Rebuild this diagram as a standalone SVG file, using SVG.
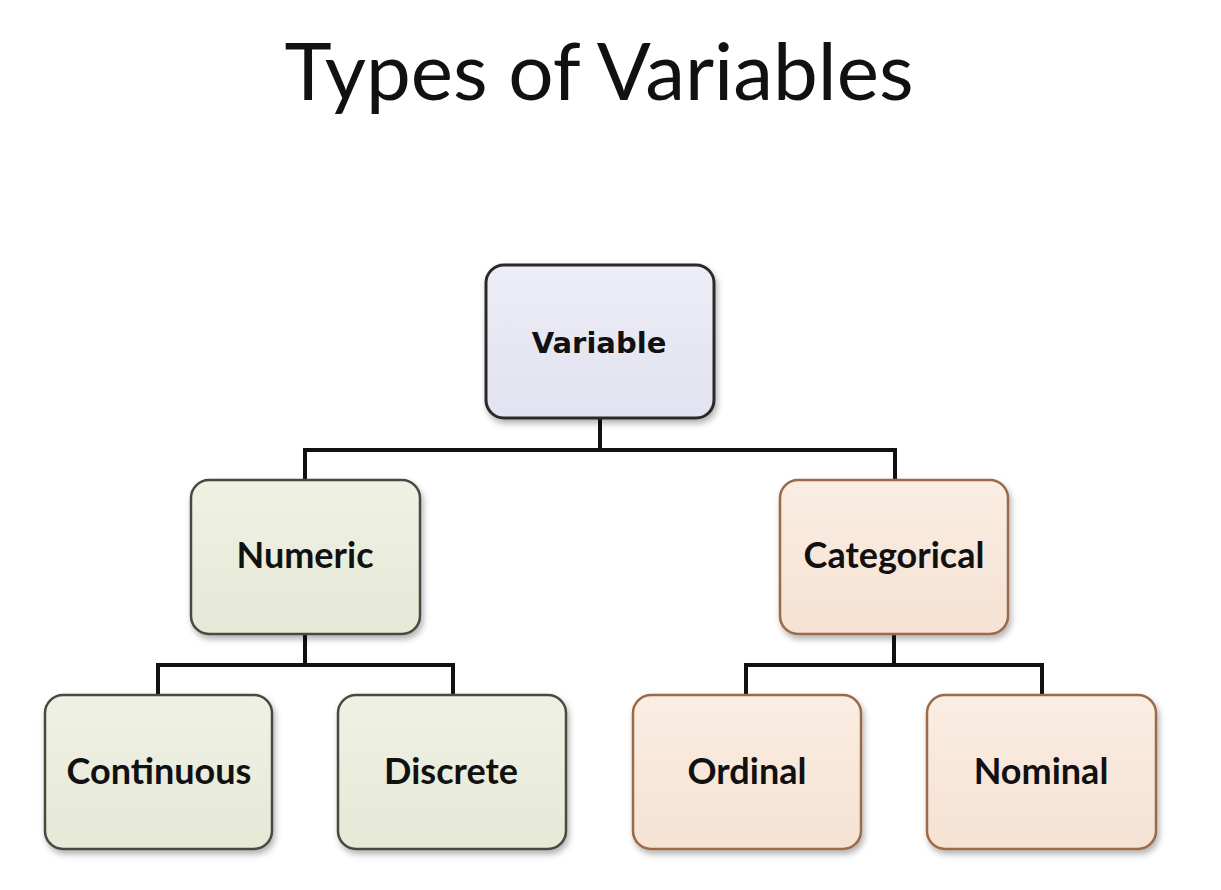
<svg xmlns="http://www.w3.org/2000/svg" width="1221" height="890" viewBox="0 0 1221 890">
<defs>
<style>
.title{font-family:Lato,"Open Sans","Liberation Sans",sans-serif;font-size:80px;fill:#111;}
.lbl{font-family:Lato,"Liberation Sans",sans-serif;font-weight:bold;font-size:36px;fill:#111;text-anchor:middle;}
.vlbl{font-family:"DejaVu Sans",sans-serif;font-weight:bold;font-size:29px;fill:#111;text-anchor:middle;}
.conn{fill:none;stroke:#111;stroke-width:4;}
.box{stroke-width:2.5;filter:url(#sh);}
.purple{fill:url(#gp);stroke:#2a2a2a;stroke-width:3;}
.green{fill:url(#gg);stroke:#4a4a40;}
.peach{fill:url(#go);stroke:#9a6a48;}
</style>
<linearGradient id="gp" x1="0" y1="0" x2="0" y2="1"><stop offset="0" stop-color="#ededf7"/><stop offset="1" stop-color="#e2e2f0"/></linearGradient>
<linearGradient id="gg" x1="0" y1="0" x2="0" y2="1"><stop offset="0" stop-color="#eff1e4"/><stop offset="1" stop-color="#e6e9d6"/></linearGradient>
<linearGradient id="go" x1="0" y1="0" x2="0" y2="1"><stop offset="0" stop-color="#faede2"/><stop offset="1" stop-color="#f5e2d3"/></linearGradient>
<filter id="sh" x="-10%" y="-10%" width="125%" height="125%"><feDropShadow dx="2" dy="4" stdDeviation="3" flood-color="#000" flood-opacity="0.3"/></filter>
</defs>
<rect width="1221" height="890" fill="#fff"/>
<text class="title" x="599" y="100" text-anchor="middle">Types of Variables</text>
<g id="connectors">
<path class="conn" d="M600 418 V450 M305 481 V450 H895 V481"/>
<path class="conn" d="M305 634 V665 M158 695 V665 H453 V695"/>
<path class="conn" d="M894 634 V665 M746 695 V665 H1042 V695"/>
</g>
<g id="variable"><rect class="box purple" x="486" y="265" width="228" height="153" rx="18"/><text class="vlbl" x="599" y="353">Variable</text></g>
<g id="numeric"><rect class="box green" x="191" y="480" width="229" height="154" rx="18"/><text class="lbl" x="305" y="568">Numeric</text></g>
<g id="categorical"><rect class="box peach" x="780" y="480" width="228" height="154" rx="18"/><text class="lbl" x="894" y="568">Categorical</text></g>
<g id="continuous"><rect class="box green" x="45" y="695" width="227" height="154" rx="18"/><text class="lbl" x="159" y="784">Continuous</text></g>
<g id="discrete"><rect class="box green" x="338" y="695" width="228" height="154" rx="18"/><text class="lbl" x="451" y="784">Discrete</text></g>
<g id="ordinal"><rect class="box peach" x="633" y="695" width="228" height="154" rx="18"/><text class="lbl" x="747" y="784">Ordinal</text></g>
<g id="nominal"><rect class="box peach" x="927" y="695" width="229" height="154" rx="18"/><text class="lbl" x="1041" y="784">Nominal</text></g>
</svg>
